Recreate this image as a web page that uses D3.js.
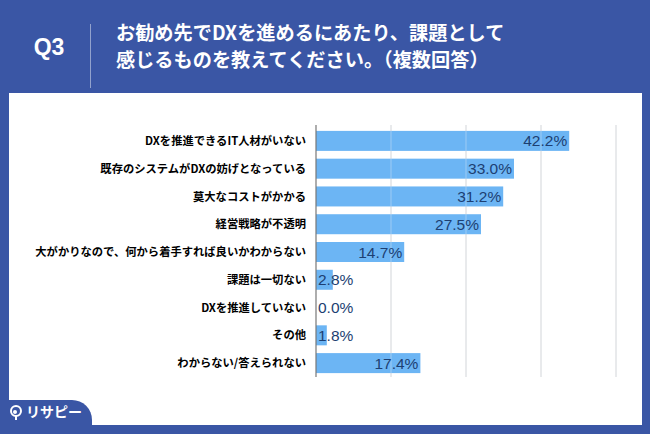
<!DOCTYPE html>
<html><head><meta charset="utf-8">
<script src="https://cdn.jsdelivr.net/npm/d3@7"></script>
<style>html,body{margin:0;padding:0;background:#3A56A5;}svg{display:block;}</style>
</head><body>
<svg id="c" width="650" height="434"></svg>
<script>
const categories = ["DXを推進できるIT人材がいない","既存のシステムがDXの妨げとなっている","莫大なコストがかかる","経営戦略が不透明","大がかりなので、何から着手すれば良いかわからない","課題は一切ない","DXを推進していない","その他","わからない/答えられない"];
const values = [42.2,33.0,31.2,27.5,14.7,2.8,0.0,1.8,17.4];
const gridTicks = [12.5,25,37.5,50];
const titleLines = ["お勧め先でDXを進めるにあたり、課題として","感じるものを教えてください。（複数回答）"];
const qLabel = "Q3";
const logoText = "リサピー";

const svg = d3.select("#c");
const blue = "#3A56A5";
const jp = "'Noto Sans CJK JP','Noto Sans',sans-serif";
svg.append("rect").attr("width",650).attr("height",434).attr("fill",blue);
// white panel
svg.append("rect").attr("x",9).attr("y",93).attr("width",633).attr("height",332).attr("fill","#fff");
// logo tab
svg.append("path").attr("d","M0,400 L72,400 A20,20 0 0 1 92,420 L92,434 L0,434 Z").attr("fill",blue);
// header
svg.append("text").attr("x",49).attr("y",55).attr("text-anchor","middle").attr("fill","#fff")
  .attr("font-family","'Liberation Sans',Arial,sans-serif").attr("font-weight","bold").attr("font-size",23).text(qLabel);
svg.append("line").attr("x1",90.5).attr("x2",90.5).attr("y1",24).attr("y2",88).attr("stroke","rgba(255,255,255,0.45)").attr("stroke-width",1);
svg.selectAll("text.title").data(titleLines).enter().append("text").attr("class","title")
  .attr("x",116).attr("y",(d,i)=>40+i*27).attr("fill","#fff").attr("font-family",jp)
  .attr("font-weight","bold").attr("font-size",19.2).text(d=>d);

const x = d3.scaleLinear().domain([0,50]).range([316,616]);
const y = d3.scaleBand().domain(categories).range([127,377]).paddingInner(0.28).paddingOuter(0.14);

// gridlines under
svg.selectAll("line.grid").data(gridTicks).enter().append("line").attr("class","grid")
  .attr("x1",d=>x(d)).attr("x2",d=>x(d)).attr("y1",125).attr("y2",377)
  .attr("stroke","#dcdcdc").attr("stroke-width",1.2);

svg.selectAll("rect.bar").data(values).enter().append("rect").attr("class","bar")
  .attr("x",x(0)).attr("y",(d,i)=>y(categories[i])).attr("width",d=>x(d)-x(0)).attr("height",y.bandwidth())
  .attr("fill","#6CB5F4");

// gridlines faintly over bars
svg.selectAll("line.grid2").data(gridTicks).enter().append("line").attr("class","grid2")
  .attr("x1",d=>x(d)).attr("x2",d=>x(d)).attr("y1",125).attr("y2",377)
  .attr("stroke","rgba(230,236,245,0.35)").attr("stroke-width",1.2);

// axis line
svg.append("line").attr("x1",x(0)).attr("x2",x(0)).attr("y1",125).attr("y2",377).attr("stroke","#777").attr("stroke-width",1.2);

// category labels
svg.selectAll("text.cat").data(categories).enter().append("text").attr("class","cat")
  .attr("x",306).attr("y",d=>y(d)+y.bandwidth()/2).attr("dy","0.36em").attr("text-anchor","end")
  .attr("font-family",jp).attr("font-weight","bold").attr("font-size",11.3).attr("fill","#000").text(d=>d);

// value labels
svg.selectAll("text.val").data(values).enter().append("text").attr("class","val")
  .attr("x",d=> d<5 ? x(0)+2 : x(d)-2)
  .attr("text-anchor",d=> d<5 ? "start" : "end")
  .attr("y",(d,i)=>y(categories[i])+y.bandwidth()/2).attr("dy","0.36em")
  .attr("font-family","'Liberation Sans',Arial,sans-serif").attr("font-size",15.5).attr("fill","#1D3F72")
  .text(d=>d.toFixed(1)+"%");

// logo
const lg = svg.append("g").attr("transform","translate(16,411)");
lg.append("circle").attr("r",5).attr("fill","none").attr("stroke","#fff").attr("stroke-width",2);
lg.append("circle").attr("cx",-1).attr("cy",1).attr("r",2).attr("fill","#fff");
lg.append("line").attr("x1",0).attr("x2",0).attr("y1",5).attr("y2",9).attr("stroke","#fff").attr("stroke-width",2);
svg.append("text").attr("x",26).attr("y",417).attr("fill","#fff").attr("font-family",jp).attr("font-weight","bold")
  .attr("font-size",14).text(logoText);
</script>
</body></html>
